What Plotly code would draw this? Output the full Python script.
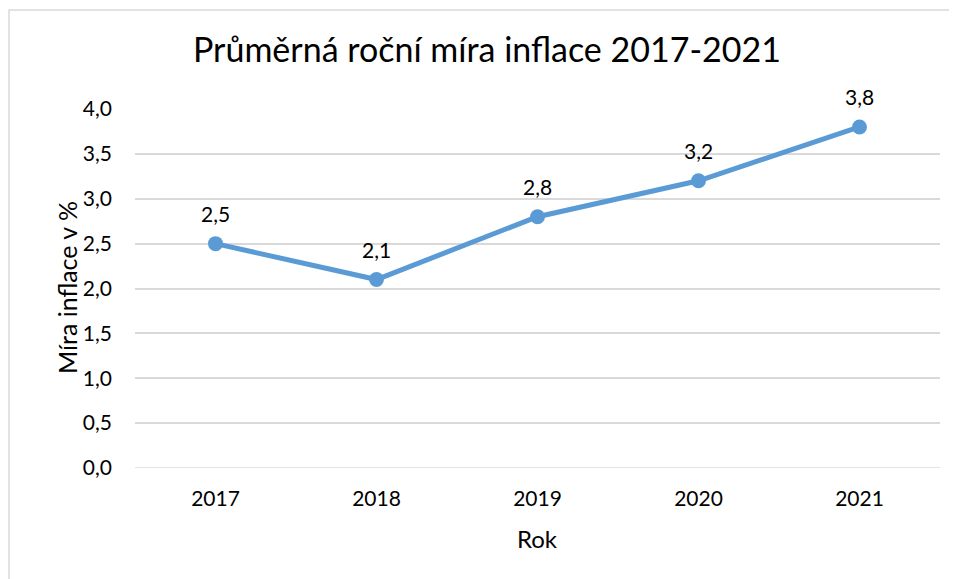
import plotly.graph_objects as go

roky = ["2017", "2018", "2019", "2020", "2021"]
inflace = [2.5, 2.1, 2.8, 3.2, 3.8]
y_ticks = [0.0, 0.5, 1.0, 1.5, 2.0, 2.5, 3.0, 3.5, 4.0]

modra = "#5B9BD5"
font_name = "Lato, Noto Sans, sans-serif"

fig = go.Figure()
fig.add_trace(go.Scatter(
    x=roky, y=inflace, mode="lines+markers",
    line=dict(color=modra, width=5),
    marker=dict(color=modra, size=15),
    hoverinfo="skip",
))

# popisky hodnot nad body (x jako index kategorie)
for i, v in enumerate(inflace):
    fig.add_annotation(x=i, y=v, text=f"{v:.1f}".replace(".", ","),
                       showarrow=False, yshift=30,
                       font=dict(size=21, color="#000000"))

# titulky os
fig.add_annotation(text="Rok", xref="paper", yref="paper", x=0.5, y=-0.195,
                   yanchor="middle", showarrow=False,
                   font=dict(size=24, color="#000000"))
fig.add_annotation(text="Míra inflace v %", xref="paper", yref="paper",
                   x=-0.0845, y=0.504, textangle=-90, showarrow=False,
                   xanchor="center", yanchor="middle",
                   font=dict(size=25, color="#000000"))

# ramecek grafu
fig.add_shape(type="rect", xref="paper", yref="paper",
              x0=-0.1565, x1=1.1, y0=-0.4, y1=1.276,
              line=dict(color="#D9D9D9", width=1.5), layer="below")

fig.update_layout(
    width=949, height=571,
    margin=dict(l=127, r=17, t=101, b=111),
    paper_bgcolor="white", plot_bgcolor="white",
    separators=", ",
    font=dict(family=font_name, color="#000000"),
    showlegend=False,
    title=dict(text="Průměrná roční míra inflace 2017-2021",
               x=0.5047, xanchor="center", xref="container",
               y=1 - 42 / 571, yanchor="middle",
               font=dict(size=34, color="#000000")),
)
fig.update_xaxes(
    type="category", range=[-0.5, 4.5], showgrid=False, zeroline=False,
    showline=False, ticks="", ticklabelstandoff=16,
    tickfont=dict(size=21, color="#000000"),
)
fig.update_yaxes(
    range=[0, 4.0], tickvals=y_ticks, tickformat=".1f",
    showgrid=True, gridcolor="#D9D9D9", gridwidth=1.5, zeroline=False,
    showline=False, ticks="", ticklabelstandoff=22,
    tickfont=dict(size=21, color="#000000"),
)
fig.add_hline(y=0, line=dict(color="#D9D9D9", width=1.5), layer="below")

fig.write_html("out.html")
